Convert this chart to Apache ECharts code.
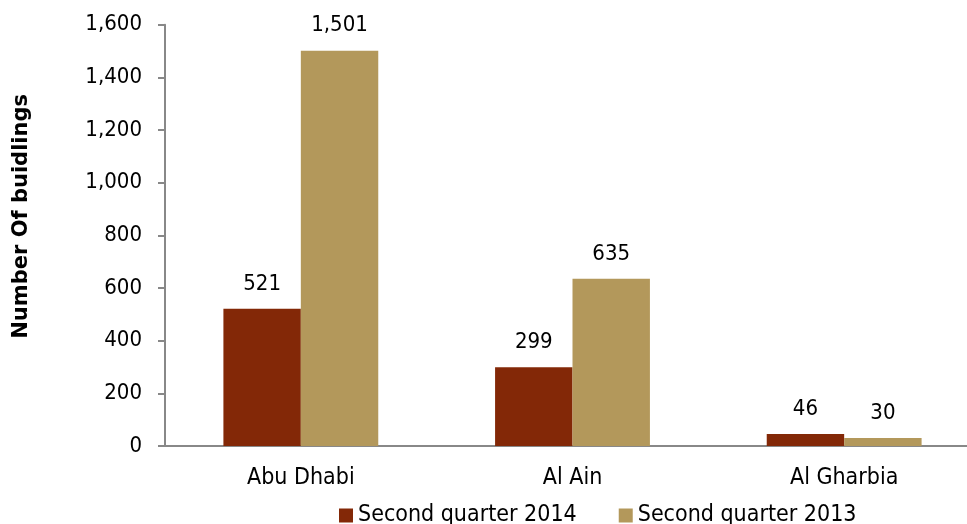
<!DOCTYPE html>
<html><head><meta charset="utf-8">
<script src="https://cdn.jsdelivr.net/npm/echarts@6/dist/echarts.min.js"></script>
<style>html,body{margin:0;padding:0;background:#fff}#c{width:967px;height:524px}</style>
</head><body><div id="c"></div>
<script>
const categories = ['Abu Dhabi', 'Al Ain', 'Al Gharbia'];
const seriesNames = ['Second quarter 2014', 'Second quarter 2013'];
const q2014 = [521, 299, 46];
const q2013 = [1501, 635, 30];
const yTicks = { min: 0, max: 1600, interval: 200 };

const fmt = v => Number(v).toLocaleString('en-US');
const font = '"DejaVu Sans Condensed", "DejaVu Sans", sans-serif';
const chart = echarts.init(document.getElementById('c'));
const labelCfg = { show: true, position: 'top', distance: 14, color: '#000', fontSize: 22, fontFamily: font, formatter: p => fmt(p.value) };
chart.setOption({
  animation: false,
  textStyle: { fontFamily: font },
  grid: { left: 165, width: 815, top: 24.7, bottom: 78, containLabel: false, outerBoundsMode: 'none' },
  legend: {
    top: 504, left: 339, padding: 0, itemWidth: 14, itemHeight: 14, itemGap: 42,
    icon: 'rect',
    textStyle: { fontSize: 23, color: '#000', fontFamily: font },
    data: seriesNames
  },
  xAxis: {
    type: 'category', data: categories,
    axisLine: { lineStyle: { color: '#888', width: 2 } },
    axisTick: { show: false },
    axisLabel: { fontSize: 23, color: '#000', margin: 21, fontFamily: font }
  },
  yAxis: {
    type: 'value', min: yTicks.min, max: yTicks.max, interval: yTicks.interval,
    name: 'Number Of buidlings', nameLocation: 'middle', nameGap: 133, nameRotate: 90,
    nameTextStyle: { fontSize: 21, fontWeight: 'bold', color: '#000', fontFamily: '"DejaVu Sans", sans-serif', padding: [0, 0, 0, 38] },
    axisLine: { show: true, lineStyle: { color: '#888', width: 2 } },
    axisTick: { show: true, length: 7, lineStyle: { color: '#888', width: 2 } },
    splitLine: { show: false },
    axisLabel: { fontSize: 22, color: '#000', margin: 23, fontFamily: font, formatter: v => fmt(v) }
  },
  series: [
    { name: seriesNames[0], type: 'bar', data: q2014, barGap: '0%', barCategoryGap: '43%', itemStyle: { color: '#832807' }, label: labelCfg },
    { name: seriesNames[1], type: 'bar', data: q2013, barGap: '0%', barCategoryGap: '43%', itemStyle: { color: '#B3985B' }, label: labelCfg }
  ]
});
</script></body></html>
